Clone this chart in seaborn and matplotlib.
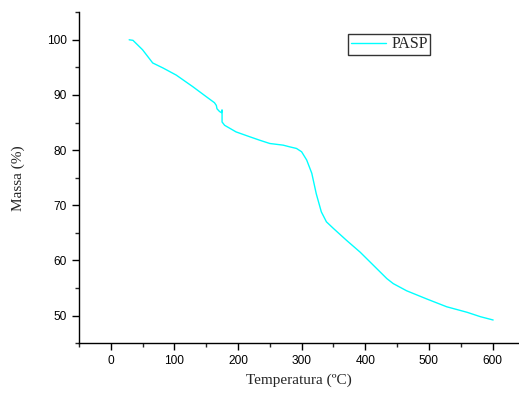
import pandas as pd
import seaborn as sns
from matplotlib import pyplot as plt
from matplotlib.ticker import MultipleLocator, AutoMinorLocator

# TGA curve
temperatura = [29, 35, 50, 66, 82, 103, 129, 150, 163, 166, 167, 171, 174, 175, 175, 179,
               197, 219, 234, 250, 271, 281, 292, 300, 308, 316, 323, 331, 339, 350, 371,
               392, 413, 434, 444, 465, 497, 528, 560, 581, 601]
massa = [100.0, 99.9, 98.2, 95.8, 94.9, 93.6, 91.5, 89.7, 88.6, 88.1, 87.5, 87.0, 86.8,
         87.3, 85.1, 84.5, 83.3, 82.4, 81.8, 81.2, 80.9, 80.6, 80.3, 79.7, 78.2, 75.8,
         72.1, 68.8, 67.0, 65.8, 63.6, 61.5, 59.1, 56.7, 55.8, 54.5, 53.0, 51.6, 50.6,
         49.8, 49.2]
serie = "PASP"

df = pd.DataFrame({"Temperatura": temperatura, "Massa": massa, "Amostra": serie})

sns.set_style("ticks")
plt.rcParams["font.family"] = ["Liberation Sans", "DejaVu Sans"]

fig = plt.figure(figsize=(5.19, 3.94), dpi=100)
ax = fig.add_axes([0.152, 0.129, 0.846, 0.840])

sns.lineplot(data=df, x="Temperatura", y="Massa", hue="Amostra", palette=["#00FFFF"],
             linewidth=1.0, sort=False, estimator=None, ax=ax)

ax.set_xlim(-50, 640)
ax.set_ylim(45, 105)
ax.xaxis.set_major_locator(MultipleLocator(100))
ax.yaxis.set_major_locator(MultipleLocator(10))
ax.xaxis.set_minor_locator(AutoMinorLocator(2))
ax.yaxis.set_minor_locator(AutoMinorLocator(2))
ax.tick_params(which="major", direction="out", length=5, width=1, labelsize=8.6, colors="black")
ax.tick_params(which="minor", direction="out", length=3, width=1)

for s in ["top", "right"]:
    ax.spines[s].set_visible(False)
for s in ["left", "bottom"]:
    ax.spines[s].set_color("black")
    ax.spines[s].set_linewidth(1.0)

serif = ["Liberation Serif", "DejaVu Serif"]
ax.set_xlabel("Temperatura (ºC)", family=serif, fontsize=11, labelpad=5)
ax.set_ylabel("Massa (%)", family=serif, fontsize=11, labelpad=16)

leg = ax.legend(loc="upper right", bbox_to_anchor=(0.80, 0.935), frameon=True, fancybox=False,
                edgecolor="black", handlelength=2.2, handletextpad=0.35, borderpad=0.15,
                borderaxespad=0, prop={"family": serif, "size": 11.5})
leg.get_frame().set_linewidth(1.0)

fig.savefig("out.png", dpi=100)
